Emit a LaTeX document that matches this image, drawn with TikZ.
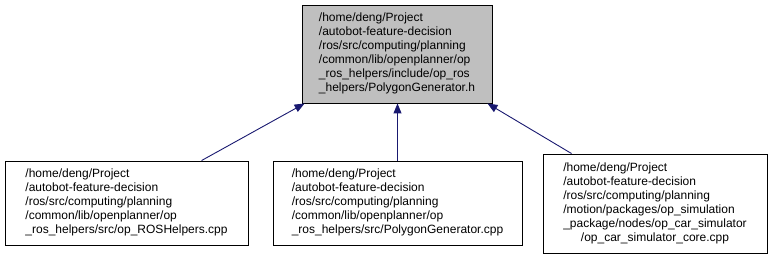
\documentclass[tikz,border=0pt]{standalone}
\usepackage{fontspec}
\setmainfont{Liberation Sans}
\usetikzlibrary{arrows.meta,calc}
\newcommand{\pathlines}[2]{\begin{tabular}{@{}l@{}}#1\\\multicolumn{1}{@{}c@{}}{#2}\end{tabular}}
\tikzset{
  file/.style={draw=black, line width=0.9pt, fill=white, inner sep=0pt,
    font=\fontsize{12}{14}\selectfont},
  current/.style={file, fill=gray!50},
  edge/.style={draw={rgb,255:red,25;green,25;blue,112}, line width=0.9pt,
    -{Triangle[length=10pt,width=8pt]}}
}
\begin{document}
\begin{tikzpicture}[x=1pt,y=1pt]
\useasboundingbox (0,0) rectangle (773,-259);
% header that is included
\node[current, minimum width=190pt, minimum height=98pt] (t) at (397,-54)
  {\pathlines{/home/deng/Project\\/autobot-feature-decision\\/ros/src/computing/planning\\/common/lib/openplanner/op\\\_ros\_helpers/include/op\_ros}{\_helpers/PolygonGenerator.h}};
% source files that include it
\node[file, minimum width=243pt, minimum height=84pt] (l) at (126.5,-203)
  {\pathlines{/home/deng/Project\\/autobot-feature-decision\\/ros/src/computing/planning\\/common/lib/openplanner/op}{\_ros\_helpers/src/op\_ROSHelpers.cpp}};
\node[file, minimum width=249pt, minimum height=84pt] (m) at (397.5,-203)
  {\pathlines{/home/deng/Project\\/autobot-feature-decision\\/ros/src/computing/planning\\/common/lib/openplanner/op}{\_ros\_helpers/src/PolygonGenerator.cpp}};
\node[file, minimum width=224pt, minimum height=99pt] (r) at (655,-203.5)
  {\pathlines{/home/deng/Project\\/autobot-feature-decision\\/ros/src/computing/planning\\/motion/packages/op\_simulation\\\_package/nodes/op\_car\_simulator}{/op\_car\_simulator\_core.cpp}};
% include edges
\draw[edge] ($(l.north west)+(197,0)$) -- ($(t.south west)+(3,0)$);
\draw[edge] (m.north) -- (m.north |- t.south);
\draw[edge] ($(r.north west)+(29,0)$) -- ($(t.south east)+(-5,0)$);
\end{tikzpicture}
\end{document}
